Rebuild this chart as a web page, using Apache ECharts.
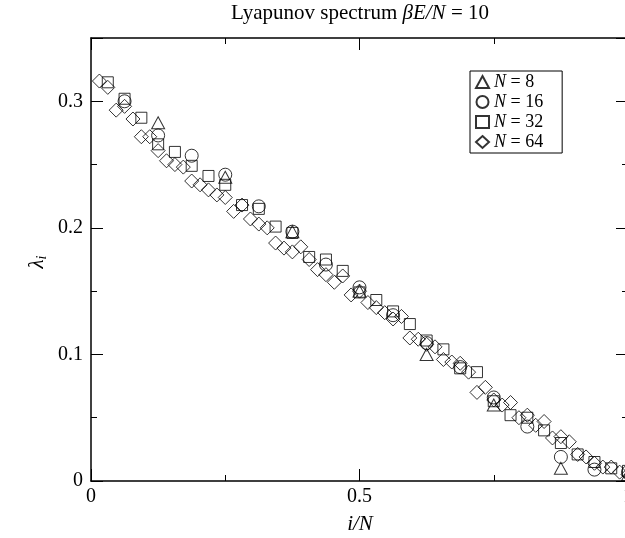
<!DOCTYPE html>
<html>
<head>
<meta charset="utf-8">
<script src="https://cdn.jsdelivr.net/npm/echarts@6/dist/echarts.min.js"></script>
<style>
  html, body { margin: 0; padding: 0; background: #fff; }
  #chart { width: 625px; height: 538px; }
</style>
</head>
<body>
<div id="chart"></div>
<script>
// Lyapunov exponents lambda_i, ordered by i = 1..N, for each system size N
const systemSizes = [8, 16, 32, 64];

const lambdaN8 = [0.283, 0.240, 0.197, 0.150, 0.100, 0.060, 0.010, 0.005];

const lambdaN16 = [0.300, 0.273, 0.257, 0.242, 0.217, 0.197, 0.171, 0.153,
                   0.131, 0.109, 0.090, 0.066, 0.043, 0.019, 0.009, 0.007];

const lambdaN32 = [0.315, 0.302, 0.287, 0.266, 0.260, 0.249, 0.241, 0.234,
                   0.218, 0.215, 0.201, 0.196, 0.177, 0.175, 0.166, 0.149,
                   0.143, 0.134, 0.124, 0.111, 0.104, 0.089, 0.086, 0.063,
                   0.052, 0.050, 0.040, 0.030, 0.021, 0.015, 0.010, 0.008];

const lambdaN64 = [0.316, 0.311, 0.293, 0.296, 0.286, 0.272, 0.272, 0.261,
                   0.253, 0.250, 0.248, 0.237, 0.234, 0.230, 0.226, 0.224,
                   0.213, 0.218, 0.207, 0.203, 0.200, 0.188, 0.184, 0.181,
                   0.185, 0.175, 0.167, 0.163, 0.157, 0.162, 0.147, 0.150,
                   0.141, 0.137, 0.133, 0.128, 0.130, 0.113, 0.112, 0.108,
                   0.106, 0.096, 0.094, 0.093, 0.086, 0.070, 0.074, 0.064,
                   0.060, 0.062, 0.050, 0.052, 0.044, 0.047, 0.034, 0.035,
                   0.031, 0.021, 0.019, 0.014, 0.011, 0.011, 0.007, 0.005];

const xTickLabels = { 0: '0', 0.5: '0.5', 1: '1' };
const yTickLabels = { 0: '0', 0.1: '0.1', 0.2: '0.2', 0.3: '0.3' };

const spectra = [lambdaN8, lambdaN16, lambdaN32, lambdaN64];
const markers = ['triangle', 'circle', 'rect', 'diamond'];
const markerSizes = [[13, 12], 13, 11, 14];

const FONT = '"Liberation Serif", "DejaVu Serif", serif';

// pairs (i/N, lambda_i)
function toPoints(values) {
  const n = values.length;
  return values.map((v, k) => [(k + 1) / n, v]);
}

const series = spectra.map((vals, s) => ({
  name: 'N' + systemSizes[s],
  type: 'scatter',
  data: toPoints(vals),
  symbol: markers[s],
  symbolSize: markerSizes[s],
  xAxisIndex: 0,
  yAxisIndex: 0,
  clip: false,
  itemStyle: { color: 'rgba(0,0,0,0)', borderColor: '#000', borderWidth: 1 },
  emphasis: { disabled: true }
}));

const lineStyle = { color: '#000', width: 1.5 };

function xAxisDef(pos, showLabels) {
  return {
    type: 'value', position: pos, min: 0, max: 1, interval: 0.5,
    axisLine: { show: true, onZero: false, lineStyle },
    axisTick: { show: true, inside: true, length: 12, lineStyle: { color: '#000', width: 1 } },
    minorTick: { show: true, splitNumber: 2, length: 6, lineStyle: { color: '#000', width: 1 } },
    splitLine: { show: false },
    axisLabel: {
      show: showLabels, margin: 6, color: '#000', fontFamily: FONT, fontSize: 20,
      formatter: v => xTickLabels[Math.round(v * 100) / 100] ?? ''
    }
  };
}

function yAxisDef(pos, step, tickLen, showLine, showLabels) {
  return {
    type: 'value', position: pos, min: 0, max: 0.35, interval: step,
    axisLine: { show: showLine, onZero: false, lineStyle },
    axisTick: { show: true, inside: true, length: tickLen, lineStyle: { color: '#000', width: 1 } },
    splitLine: { show: false },
    axisLabel: {
      show: showLabels, margin: 8, color: '#000', fontFamily: FONT, fontSize: 20,
      formatter: v => yTickLabels[Math.round(v * 100) / 100] ?? ''
    }
  };
}

const chart = echarts.init(document.getElementById('chart'), null, { renderer: 'canvas' });

chart.setOption({
  animation: false,
  backgroundColor: '#fff',
  grid: { left: 91, top: 38, width: 537, height: 443, containLabel: false, outerBoundsMode: 'none' },
  xAxis: [xAxisDef('bottom', true), xAxisDef('top', false)],
  yAxis: [
    yAxisDef('left', 0.1, 12, true, true),
    yAxisDef('left', 0.05, 6, false, false),
    yAxisDef('right', 0.1, 12, true, false),
    yAxisDef('right', 0.05, 6, false, false)
  ],
  legend: {
    left: 470, top: 71,
    orient: 'vertical',
    itemWidth: 13, itemHeight: 12, itemGap: 0,
    padding: [1, 19, 1, 5],
    borderColor: '#000', borderWidth: 1,
    selectedMode: false,
    formatter: name => '{it|N}{rm| = ' + name.slice(1) + '}',
    textStyle: {
      color: '#000', fontFamily: FONT, fontSize: 18, lineHeight: 20,
      rich: {
        it: { fontFamily: FONT, fontSize: 18, fontStyle: 'italic', color: '#000', lineHeight: 20 },
        rm: { fontFamily: FONT, fontSize: 18, color: '#000', lineHeight: 20 }
      }
    },
    data: series.map(s => s.name)
  },
  graphic: [
    {
      type: 'text', x: 360, y: 13,
      style: {
        text: '{rm|Lyapunov spectrum }{it|βE/N}{rm| = 10}',
        align: 'center', verticalAlign: 'middle',
        rich: {
          rm: { fontFamily: FONT, fontSize: 21, fill: '#000' },
          it: { fontFamily: FONT, fontSize: 21, fontStyle: 'italic', fill: '#000' }
        }
      }
    },
    {
      type: 'text', x: 360, y: 524,
      style: {
        text: 'i/N', fontFamily: FONT, fontSize: 21, fontStyle: 'italic',
        fill: '#000', align: 'center', verticalAlign: 'middle'
      }
    },
    {
      type: 'text', x: 37, y: 262, rotation: Math.PI / 2,
      style: {
        text: '{l|λ}{s|i}',
        align: 'center', verticalAlign: 'middle',
        rich: {
          l: { fontFamily: FONT, fontSize: 21, fontStyle: 'italic', fill: '#000', verticalAlign: 'middle' },
          s: { fontFamily: FONT, fontSize: 14, fontStyle: 'italic', fill: '#000', padding: [10, 0, 0, 0] }
        }
      }
    }
  ],
  series
});
</script>
</body>
</html>
